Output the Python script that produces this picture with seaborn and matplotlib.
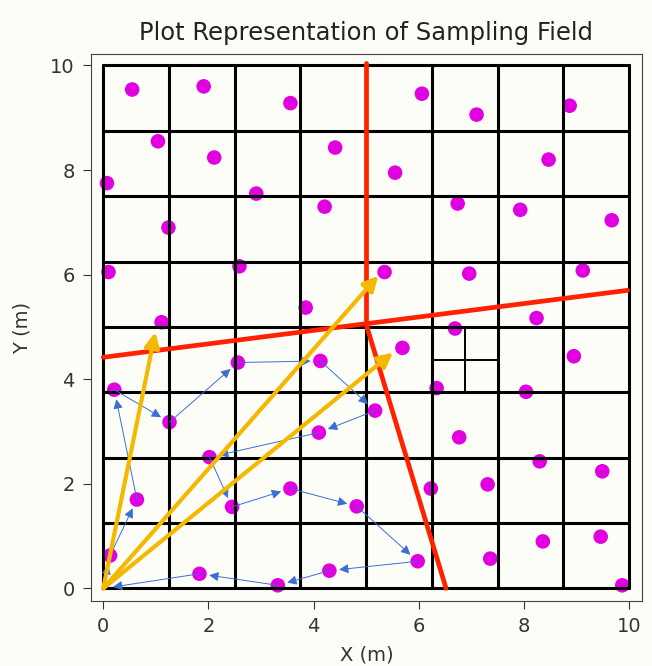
import matplotlib
matplotlib.use('Agg')
import matplotlib.pyplot as plt
import seaborn as sns
import pandas as pd

# pontos de amostragem (magenta)
pts_x = [0.55, 1.91, 3.56, 6.06, 7.10, 8.87, 1.04, 2.11, 4.41, 5.55, 8.47,
         0.07, 2.91, 4.21, 6.74, 7.93, 9.67, 1.24, 2.59, 0.10, 5.35, 6.96,
         9.12, 3.85, 1.11, 8.24, 6.69, 5.69, 8.95, 2.56, 4.13, 0.21, 1.26,
         5.17, 4.10, 6.34, 8.04, 2.02, 6.77, 8.30, 9.49, 0.64, 3.56, 2.45,
         4.82, 6.23, 7.31, 8.36, 9.46, 0.13, 5.98, 7.36, 4.30, 1.83, 3.32,
         9.87]
pts_y = [9.54, 9.60, 9.28, 9.46, 9.06, 9.23, 8.55, 8.24, 8.43, 7.95, 8.20,
         7.75, 7.55, 7.30, 7.36, 7.24, 7.04, 6.90, 6.16, 6.05, 6.05, 6.02,
         6.08, 5.37, 5.09, 5.17, 4.97, 4.60, 4.44, 4.32, 4.35, 3.80, 3.18,
         3.40, 2.98, 3.83, 3.76, 2.51, 2.89, 2.43, 2.24, 1.70, 1.91, 1.56,
         1.57, 1.91, 1.99, 0.90, 0.99, 0.63, 0.52, 0.57, 0.34, 0.28, 0.06,
         0.06]

# percurso (setas azuis)
route_x = [0, 0.13, 0.64, 0.21, 1.26, 2.56, 4.13, 5.17, 4.10, 2.02, 2.45,
           3.56, 4.82, 5.98, 4.30, 3.32, 1.83, 0]
route_y = [0, 0.63, 1.70, 3.80, 3.18, 4.32, 4.35, 3.40, 2.98, 2.51, 1.56,
           1.91, 1.57, 0.52, 0.34, 0.06, 0.28, 0]

# vetores amarelos a partir da origem
vec_x = [0.99, 5.23, 5.51]
vec_y = [4.90, 5.98, 4.51]

# linhas vermelhas (inicio, fim)
red_x0 = [0, 5, 5]
red_y0 = [4.42, 5.05, 5.05]
red_x1 = [9.97, 5, 6.52]
red_y1 = [5.70, 10.05, 0]

# grade
grid_lines = [0, 1.25, 2.5, 3.75, 5, 6.25, 7.5, 8.75, 10]
sub_x = 6.875
sub_y = 4.375

bg = '#fdfdf7'
sns.set_style('ticks', {'axes.facecolor': bg, 'figure.facecolor': bg,
                        'axes.edgecolor': '#444444'})
plt.rcParams['font.family'] = ['DejaVu Sans']

fig = plt.figure(figsize=(6.52, 6.66), dpi=100)
ax = fig.add_axes([0.139, 0.0976, 0.846, 0.8214])

df = pd.DataFrame({'x': pts_x, 'y': pts_y})
sns.scatterplot(data=df, x='x', y='y', color='#e000e0', s=110,
                edgecolor='none', ax=ax, zorder=2)

for g in grid_lines:
    ax.plot([g, g], [0, 10], color='black', lw=2.2, zorder=3)
    ax.plot([0, 10], [g, g], color='black', lw=2.2, zorder=3)
ax.plot([sub_x, sub_x], [3.75, 5], color='black', lw=1.4, zorder=3)
ax.plot([6.25, 7.5], [sub_y, sub_y], color='black', lw=1.4, zorder=3)

for i in range(len(route_x) - 1):
    ax.annotate('', xy=(route_x[i + 1], route_y[i + 1]),
                xytext=(route_x[i], route_y[i]),
                arrowprops=dict(arrowstyle='-|>', color='#3b6fd4', lw=0.7,
                                mutation_scale=14, shrinkA=0, shrinkB=7),
                zorder=4)

for i in range(len(red_x0)):
    ax.plot([red_x0[i], red_x1[i]], [red_y0[i], red_y1[i]],
            color='#ff2200', lw=3.4, zorder=5, solid_capstyle='round')

for i in range(len(vec_x)):
    ax.annotate('', xy=(vec_x[i], vec_y[i]), xytext=(0, 0),
                arrowprops=dict(arrowstyle='-|>', color='#f5b800', lw=3,
                                mutation_scale=22, shrinkA=0, shrinkB=0),
                zorder=6)

ax.set_xlim(-0.24, 10.25)
ax.set_ylim(-0.24, 10.22)
ax.set_xticks([0, 2, 4, 6, 8, 10])
ax.set_yticks([0, 2, 4, 6, 8, 10])
ax.tick_params(labelsize=14, colors='#333333', length=5.5, pad=6)
ax.set_title('Plot Representation of Sampling Field', fontsize=17.5,
             color='#222222', pad=10)
ax.set_xlabel('X (m)', fontsize=14, color='#333333', labelpad=7)
ax.set_ylabel('Y (m)', fontsize=14, color='#333333', labelpad=13)

fig.savefig('out.png', dpi=100, facecolor=bg)
